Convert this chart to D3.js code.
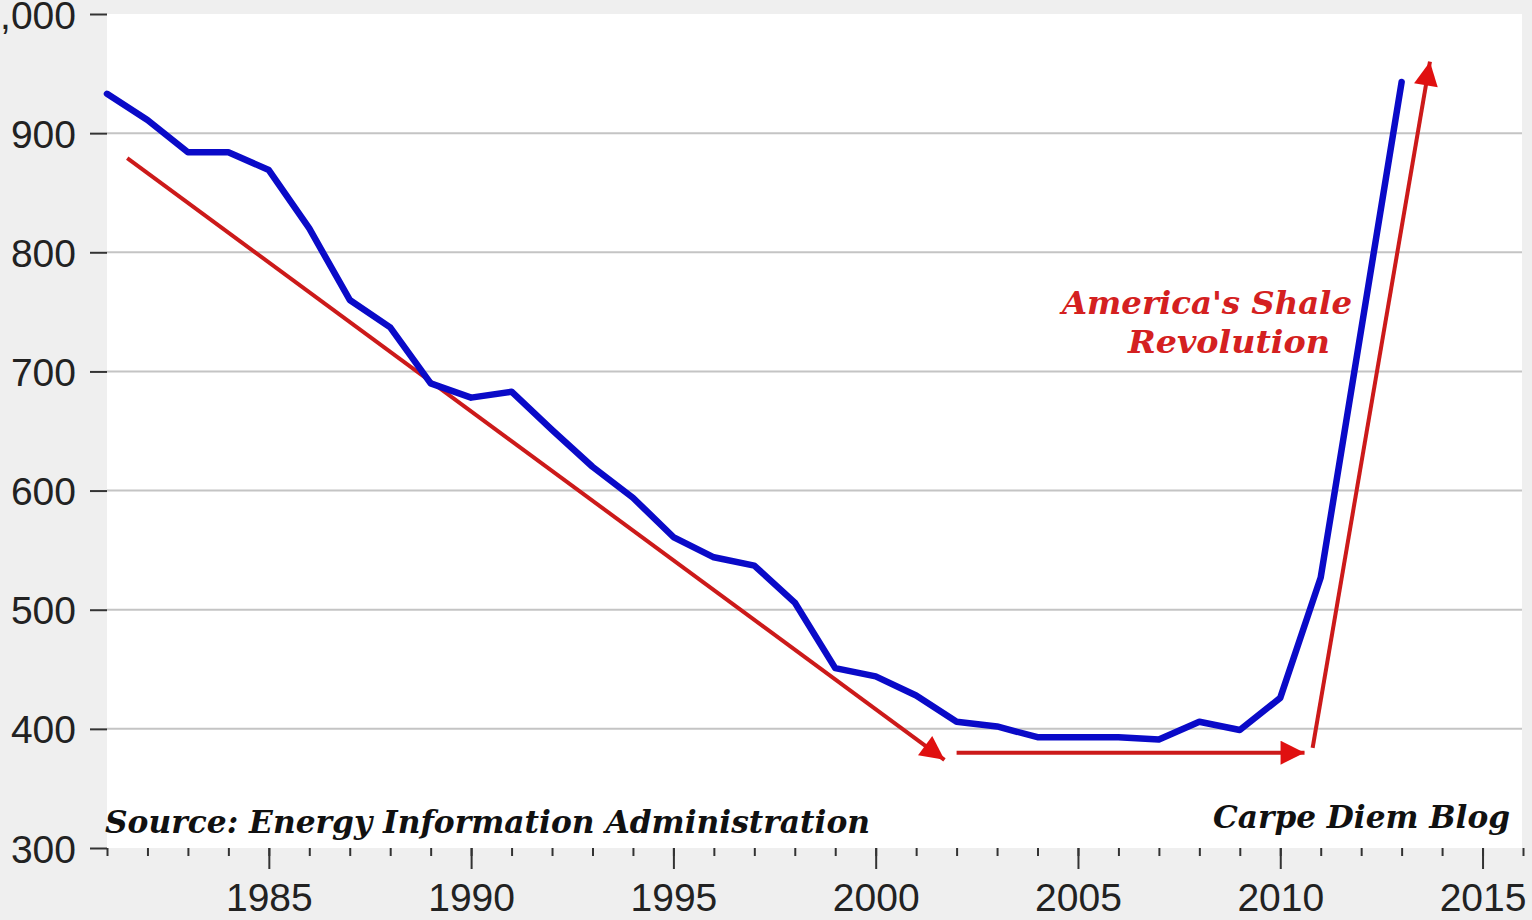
<!DOCTYPE html>
<html>
<head>
<meta charset="utf-8">
<script src="https://cdn.jsdelivr.net/npm/d3@7"></script>
<style>
  html, body { margin: 0; padding: 0; background: #efefef; }
  svg { display: block; }
</style>
</head>
<body>
<svg id="chart"></svg>
<script>
// production by year
const years = [1981, 1982, 1983, 1984, 1985, 1986, 1987, 1988, 1989, 1990,
  1991, 1992, 1993, 1994, 1995, 1996, 1997, 1998, 1999, 2000,
  2001, 2002, 2003, 2004, 2005, 2006, 2007, 2008, 2009, 2010,
  2011, 2012, 2013];
const values = [933, 911, 884, 884, 869, 820, 760, 737, 690, 678,
  683, 651, 620, 594, 561, 544, 537, 506, 451, 444,
  428, 406, 402, 393, 393, 393, 391, 406, 399, 426,
  527, 735, 943];

const yTicks = [300, 400, 500, 600, 700, 800, 900, 1000];
const xMajorTicks = [1985, 1990, 1995, 2000, 2005, 2010, 2015];
const xMinorTicks = d3.range(1981, 2017);

// red trend arrows: [start year, start value, end year, end value]
const arrows = [
  [1981.5, 879, 2001.7, 374],
  [2002.0, 380, 2010.6, 380],
  [2010.8, 384, 2013.7, 960]
];

const width = 1532, height = 920;
const margin = { top: 14, right: 10, bottom: 72, left: 107 };

const svg = d3.select('#chart')
  .attr('width', width)
  .attr('height', height);

const x = d3.scaleLinear()
  .domain([1981, 2016])
  .range([margin.left, 1523]);

const y = d3.scaleLinear()
  .domain([300, 1000])
  .range([height - margin.bottom, margin.top]);

// plot background
svg.append('rect')
  .attr('x', margin.left)
  .attr('y', margin.top)
  .attr('width', 1522 - margin.left)
  .attr('height', y(300) - margin.top)
  .attr('fill', '#ffffff');

// grid lines
svg.append('g')
  .selectAll('line')
  .data(yTicks.filter(d => d > 300 && d < 1000))
  .enter()
  .append('line')
  .attr('x1', margin.left)
  .attr('x2', 1522)
  .attr('y1', d => y(d))
  .attr('y2', d => y(d))
  .attr('stroke', '#c4c4c4')
  .attr('stroke-width', 2);

// y axis
const yAxis = svg.append('g')
  .attr('transform', `translate(${margin.left},0)`)
  .call(d3.axisLeft(y).tickValues(yTicks).tickSize(17).tickPadding(14).tickFormat(d3.format(',')));
yAxis.select('.domain').remove();
yAxis.selectAll('line').attr('stroke', '#333').attr('stroke-width', 2);
yAxis.selectAll('text')
  .attr('font-family', '"Liberation Sans", Arial, sans-serif')
  .attr('font-size', 39)
  .attr('fill', '#222')
  .attr('dy', '0.36em');

// x axis, minor ticks
const xMinor = svg.append('g')
  .attr('transform', `translate(0,${y(300)})`)
  .call(d3.axisBottom(x).tickValues(xMinorTicks).tickSize(8).tickFormat(''));
xMinor.select('.domain').remove();
xMinor.selectAll('line').attr('stroke', '#333').attr('stroke-width', 2);

// x axis, major ticks with labels
const xMajor = svg.append('g')
  .attr('transform', `translate(0,${y(300)})`)
  .call(d3.axisBottom(x).tickValues(xMajorTicks).tickSize(21).tickPadding(14).tickFormat(d3.format('d')));
xMajor.select('.domain').remove();
xMajor.selectAll('line').attr('stroke', '#333').attr('stroke-width', 2);
xMajor.selectAll('text')
  .attr('font-family', '"Liberation Sans", Arial, sans-serif')
  .attr('font-size', 39)
  .attr('fill', '#222');

// arrowhead
svg.append('defs')
  .append('marker')
  .attr('id', 'head')
  .attr('viewBox', '0 0 10 10')
  .attr('refX', 10)
  .attr('refY', 5)
  .attr('markerUnits', 'userSpaceOnUse')
  .attr('markerWidth', 26)
  .attr('markerHeight', 24)
  .attr('orient', 'auto')
  .append('path')
  .attr('d', 'M0,0 L10,5 L0,10 Z')
  .attr('fill', '#e01010');

svg.append('g')
  .selectAll('line')
  .data(arrows)
  .enter()
  .append('line')
  .attr('x1', d => x(d[0]))
  .attr('y1', d => y(d[1]))
  .attr('x2', d => x(d[2]))
  .attr('y2', d => y(d[3]))
  .attr('stroke', '#cc1a1a')
  .attr('stroke-width', 4)
  .attr('marker-end', 'url(#head)');

// production line
const line = d3.line()
  .x((d, i) => x(years[i]))
  .y(d => y(d));

svg.append('path')
  .datum(values)
  .attr('d', line)
  .attr('fill', 'none')
  .attr('stroke', '#0a0ac8')
  .attr('stroke-width', 6.5)
  .attr('stroke-linejoin', 'round')
  .attr('stroke-linecap', 'round');

// annotations
const serif = '"DejaVu Serif", "Liberation Serif", serif';

svg.append('text')
  .attr('x', 1062)
  .attr('y', 314)
  .attr('font-family', serif)
  .attr('font-weight', 'bold')
  .attr('font-style', 'italic')
  .attr('font-size', 31)
  .attr('fill', '#d42020')
  .attr('textLength', 290)
  .attr('lengthAdjust', 'spacingAndGlyphs')
  .text("America's Shale");

svg.append('text')
  .attr('x', 1128)
  .attr('y', 353)
  .attr('font-family', serif)
  .attr('font-weight', 'bold')
  .attr('font-style', 'italic')
  .attr('font-size', 31)
  .attr('fill', '#d42020')
  .attr('textLength', 202)
  .attr('lengthAdjust', 'spacingAndGlyphs')
  .text('Revolution');

svg.append('text')
  .attr('x', 105)
  .attr('y', 833)
  .attr('font-family', serif)
  .attr('font-weight', 'bold')
  .attr('font-style', 'italic')
  .attr('font-size', 32)
  .attr('fill', '#111')
  .attr('textLength', 765)
  .attr('lengthAdjust', 'spacingAndGlyphs')
  .text('Source: Energy Information Administration');

svg.append('text')
  .attr('x', 1213)
  .attr('y', 828)
  .attr('font-family', serif)
  .attr('font-weight', 'bold')
  .attr('font-style', 'italic')
  .attr('font-size', 32)
  .attr('fill', '#111')
  .attr('textLength', 297)
  .attr('lengthAdjust', 'spacingAndGlyphs')
  .text('Carpe Diem Blog');
</script>
</body>
</html>
